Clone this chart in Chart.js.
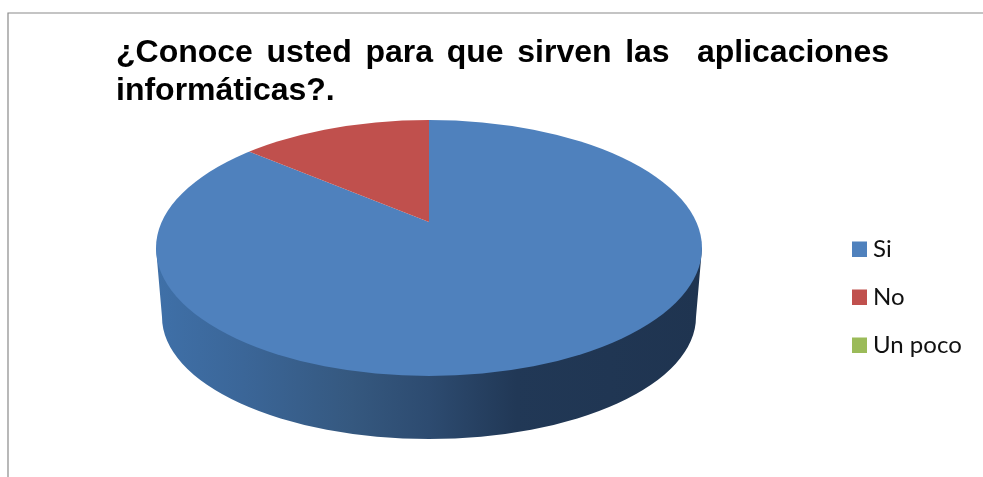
<!DOCTYPE html>
<html>
<head>
<meta charset="utf-8">
<style>
  html, body { margin: 0; padding: 0; background: #fff; overflow: hidden; }
  canvas { display: block; }
</style>
<script src="https://cdn.jsdelivr.net/npm/chart.js@4/dist/chart.umd.min.js"></script>
</head>
<body>
<div style="width:983px;height:477px"><canvas id="pie"></canvas></div>
<script>
const categories = ['Si', 'No', 'Un poco'];
const shares = [87, 13, 0];
const sliceColors = ['#4f81bd', '#c0504d', '#9bbb59'];
const titleLines = ['¿Conoce usted para que sirven las  aplicaciones', 'informáticas?.'];

// Outline of the tilted disc, its rim base, and the apex seen in perspective
const disc = { cx: 429, cy: 248, rx: 273, ry: 128 };
const base = { cx: 429, cy: 317, rx: 267, ry: 122 };
const apex = { x: 429, y: 222 };
const farHalf = { sx: 276, sy: 115 };
const nearHalf = { sx: 300, sy: 165 };

// Stretches the first title line across the column with wider word gaps
const justifiedTitle = {
  id: 'justifiedTitle',
  beforeDraw(chart) {
    const ctx = chart.ctx;
    ctx.font = 'bold 32px "Liberation Sans"';
    ctx.wordSpacing = '0px';
    const first = titleLines[0];
    const gaps = first.split(' ').length - 1;
    ctx.wordSpacing = ((773 - ctx.measureText(first).width) / gaps) + 'px';
  },
  beforeDatasetsDraw(chart) {
    chart.ctx.wordSpacing = '0px';
  }
};

// Thin frame along the top and left edges
const frame = {
  id: 'frame',
  beforeDraw(chart) {
    const ctx = chart.ctx;
    ctx.save();
    ctx.strokeStyle = '#8a8a8a';
    ctx.lineWidth = 1.2;
    ctx.beginPath();
    ctx.moveTo(8, 477);
    ctx.lineTo(8, 13);
    ctx.lineTo(983, 13);
    ctx.stroke();
    ctx.restore();
  }
};

// Restricts drawing to one side of the apex, inside the disc outline
function clipHalf(ctx, far) {
  ctx.beginPath();
  ctx.ellipse(disc.cx, disc.cy, disc.rx, disc.ry, 0, 0, Math.PI * 2);
  ctx.clip();
  ctx.beginPath();
  if (far) ctx.rect(0, 0, 983, apex.y);
  else ctx.rect(0, apex.y, 983, 477 - apex.y);
  ctx.clip();
}

// Maps the round arcs onto one half of the foreshortened disc
function projectHalf(ctx, arc, half) {
  ctx.translate(apex.x, apex.y);
  ctx.scale(half.sx / arc.outerRadius, half.sy / arc.outerRadius);
  ctx.translate(-arc.x, -arc.y);
}

// Rim below the disc, then the arcs drawn once per half so the apex sits off-centre
const tilt = {
  id: 'tilt',
  beforeDatasetsDraw(chart) {
    const ctx = chart.ctx;
    const grad = ctx.createLinearGradient(disc.cx - disc.rx, 0, disc.cx + disc.rx, 0);
    grad.addColorStop(0, '#3f70a8');
    grad.addColorStop(0.16, '#3b6698');
    grad.addColorStop(0.36, '#35587f');
    grad.addColorStop(0.5, '#2d4b70');
    grad.addColorStop(0.66, '#213856');
    grad.addColorStop(1, '#1f3450');
    ctx.save();
    ctx.fillStyle = grad;
    ctx.beginPath();
    ctx.moveTo(disc.cx + disc.rx, disc.cy);
    ctx.lineTo(base.cx + base.rx, base.cy);
    ctx.ellipse(base.cx, base.cy, base.rx, base.ry, 0, 0, Math.PI);
    ctx.lineTo(disc.cx - disc.rx, disc.cy);
    ctx.closePath();
    ctx.fill();
    ctx.restore();

    const arc = chart.getDatasetMeta(0).data[0];
    ctx.save();
    clipHalf(ctx, true);
    projectHalf(ctx, arc, farHalf);
  },
  afterDatasetsDraw(chart) {
    const ctx = chart.ctx;
    ctx.restore();
    const meta = chart.getDatasetMeta(0);
    ctx.save();
    clipHalf(ctx, false);
    projectHalf(ctx, meta.data[0], nearHalf);
    meta.controller.draw();
    ctx.restore();
  }
};

// Column of colour keys at the right
const keyColumn = {
  id: 'keyColumn',
  afterDraw(chart) {
    const ctx = chart.ctx;
    ctx.save();
    ctx.font = '24px Lato';
    ctx.textBaseline = 'alphabetic';
    categories.forEach((name, i) => {
      const bottom = 257 + i * 48;
      ctx.fillStyle = sliceColors[i];
      ctx.fillRect(852, bottom - 15.5, 15, 15.5);
      ctx.fillStyle = '#111';
      ctx.fillText(name, 873, bottom);
    });
    ctx.restore();
  }
};

new Chart(document.getElementById('pie'), {
  type: 'pie',
  data: {
    labels: categories,
    datasets: [{
      data: shares,
      backgroundColor: sliceColors,
      borderWidth: 0,
      clip: false,
      radius: 273
    }]
  },
  options: {
    responsive: true,
    maintainAspectRatio: false,
    animation: false,
    layout: { padding: { left: 116, right: 10, top: 35, bottom: 0 } },
    plugins: {
      legend: { display: false },
      tooltip: { enabled: false },
      title: {
        display: true,
        text: titleLines,
        align: 'start',
        color: '#000',
        font: { family: '"Liberation Sans"', size: 32, weight: 'bold', lineHeight: 1.16 },
        padding: { top: 0, bottom: 8 }
      }
    }
  },
  plugins: [frame, justifiedTitle, tilt, keyColumn]
});
</script>
</body>
</html>
